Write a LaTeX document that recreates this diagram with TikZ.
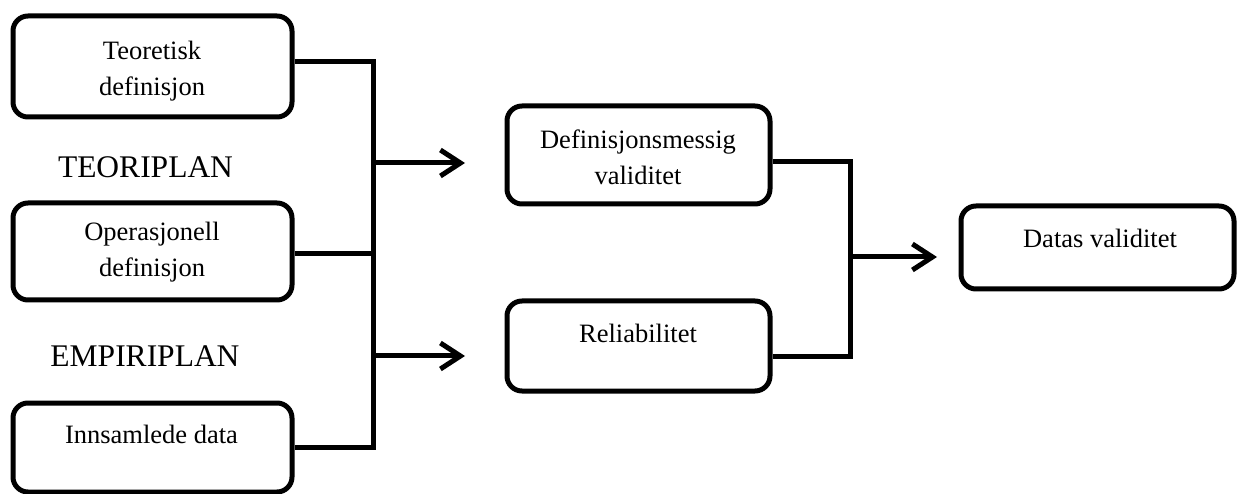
\documentclass[tikz,border=0pt]{standalone}
\usepackage{fontspec}
\setmainfont{Liberation Serif}
\usetikzlibrary{arrows.meta}
\tikzset{
  box/.style={draw, line width=5pt, rounded corners=15pt, inner sep=0pt},
  txt/.style={anchor=north, inner sep=0pt, align=center, font=\fontsize{26.5}{36}\selectfont},
  plan/.style={inner sep=0pt, font=\fontsize{31.5}{36}\selectfont},
  conn/.style={line width=5pt, line join=miter},
  arr/.style={line width=5pt, -{Straight Barb[length=20pt,width=26pt]}}
}
\begin{document}
\begin{tikzpicture}[x=1pt,y=-1pt]
\useasboundingbox (0,0) rectangle (1240,494);
% boxes
\node[box, minimum width=279pt, minimum height=101pt] (teo) at (152.5,66.5) {};
\node[box, minimum width=279pt, minimum height=97pt]  (ops) at (152.5,251.5) {};
\node[box, minimum width=279pt, minimum height=89pt]  (inn) at (152.5,447.5) {};
\node[box, minimum width=263pt, minimum height=98pt]  (def) at (638.5,155) {};
\node[box, minimum width=263pt, minimum height=90pt]  (rel) at (638.5,346) {};
\node[box, minimum width=273pt, minimum height=83pt]  (dat) at (1097.5,247.5) {};
% texts
\node[txt] (teoT) at (152,41) {Teoretisk\\definisjon};
\node[txt] (opsT) at (152,222) {Operasjonell\\definisjon};
\node[txt] (innT) at (151.5,425) {Innsamlede data};
\node[txt] (defT) at (638,130) {Definisjonsmessig\\validitet};
\node[txt] (relT) at (638,324) {Reliabilitet};
\node[txt] (datT) at (1100,229) {Datas validitet};
\node[plan] (teoriplan) at (145.5,167) {TEORIPLAN};
\node[plan] (empiriplan) at (145,356.5) {EMPIRIPLAN};
% connector end points
\coordinate (b1) at (373,0);
\coordinate (b2) at (850,0);
\coordinate (a1) at (465,163);
\coordinate (a2) at (465,356);
\coordinate (a3) at (937,257);
\coordinate (teoE) at ([yshift=4.5pt]teo.east);
\coordinate (opsE) at ([yshift=-2.5pt]ops.east);
\coordinate (defE) at ([yshift=-7pt]def.east);
\coordinate (relE) at ([yshift=-11pt]rel.east);
% left connectors
\draw[conn] (teoE) -| (b1 |- inn.east) -- (inn.east);
\draw[conn] (opsE) -- (b1 |- opsE);
\draw[arr] (b1 |- a1) -- (a1);
\draw[arr] (b1 |- a2) -- (a2);
% right connectors
\draw[conn] (defE) -| (b2 |- relE) -- (relE);
\draw[arr] (b2 |- a3) -- (a3);
\end{tikzpicture}
\end{document}
